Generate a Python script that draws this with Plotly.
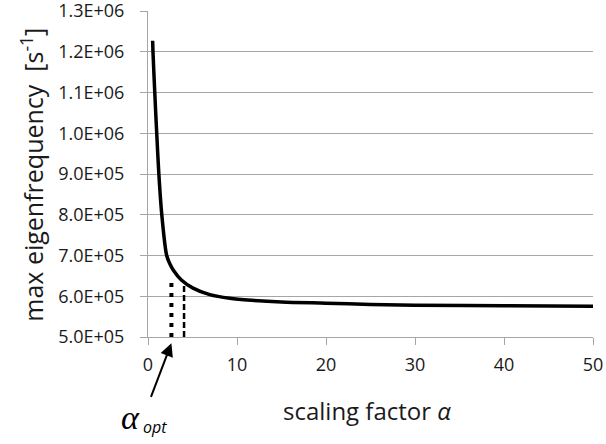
import plotly.graph_objects as go

# ---- data ----
alpha = [0.52, 0.56, 0.76, 0.98, 1.22, 1.55, 2.1, 2.45, 2.85, 3.75, 5.06, 6.94,
         9.19, 11.7, 15, 20, 25, 30, 40, 50]
max_freq = [1.227e6, 1.2e6, 1.1e6, 1.0e6, 9.0e5, 8.0e5, 7.0e5, 6.8e5, 6.64e5,
            6.40e5, 6.20e5, 6.04e5, 5.95e5, 5.90e5, 5.86e5, 5.83e5, 5.80e5,
            5.78e5, 5.765e5, 5.755e5]

dotted_x = [2.63, 2.63]
dotted_y = [5.0e5, 6.45e5]
dashed_x = [4.05, 4.05]
dashed_y = [5.0e5, 6.25e5]

x_ticks = [0, 10, 20, 30, 40, 50]
y_ticks = [5e5, 6e5, 7e5, 8e5, 9e5, 1.0e6, 1.1e6, 1.2e6, 1.3e6]
y_ticklabels = [f"{v:.1E}" for v in y_ticks]

arrow_x = 2.63

FONT = "Open Sans"
GRID = "#a6a6a6"
TXT = "#1a1a1a"

fig = go.Figure()
fig.add_trace(go.Scatter(x=alpha, y=max_freq, mode="lines",
                         line=dict(color="black", width=3.5, shape="spline",
                                   smoothing=0.9),
                         showlegend=False))
fig.add_trace(go.Scatter(x=dotted_x, y=dotted_y, mode="lines",
                         line=dict(color="black", width=4, dash="4px,6px"),
                         showlegend=False))
fig.add_trace(go.Scatter(x=dashed_x, y=dashed_y, mode="lines",
                         line=dict(color="black", width=2.5, dash="6px,3px"),
                         showlegend=False))

fig.update_layout(
    width=606, height=444,
    margin=dict(l=148, r=13, t=11, b=107, autoexpand=False),
    paper_bgcolor="white", plot_bgcolor="white",
    font=dict(family=FONT, size=18, color=TXT),
    xaxis=dict(range=[0, 50], tickvals=x_ticks, ticks="outside", ticklen=7,
               tickcolor=GRID, showgrid=False, showline=True, linecolor=GRID,
               zeroline=False, ticklabelstandoff=4, automargin=False,
               tickfont=dict(family=FONT, size=18, color=TXT)),
    yaxis=dict(range=[4.9999e5, 1.30001e6], tickvals=y_ticks,
               ticktext=y_ticklabels, automargin=False,
               ticklabeloverflow="allow",
               ticks="outside", ticklen=7, tickcolor=GRID, showgrid=True,
               gridcolor=GRID, gridwidth=1, showline=True, linecolor=GRID,
               zeroline=False, ticklabelstandoff=12,
               tickfont=dict(family=FONT, size=18, color=TXT)),
    annotations=[
        dict(text="scaling factor <i>α</i>", xref="paper", yref="paper",
             x=0.493, y=-0.224, xanchor="center", yanchor="middle",
             showarrow=False, font=dict(family=FONT, size=24, color=TXT)),
        dict(text="max eigenfrequency  [s<sup>-1</sup>]", xref="paper", yref="paper",
             x=-0.259, y=0.497, xanchor="center", yanchor="middle", textangle=-90,
             showarrow=False, font=dict(family=FONT, size=25, color=TXT)),
        dict(text="", xref="x", yref="paper", x=arrow_x, y=-0.0193,
             ax=-21, ay=55, showarrow=True, arrowhead=2, arrowsize=1.3,
             arrowwidth=2, arrowcolor="black"),
        dict(text="<i>α</i>", xref="paper", yref="paper",
             x=(131 - 148.3) / 444.7, y=(337 - 417) / 326,
             xanchor="center", yanchor="middle", showarrow=False,
             font=dict(family="Liberation Serif", size=34, color="black")),
        dict(text="<i>opt</i>", xref="paper", yref="paper",
             x=(155 - 148.3) / 444.7, y=(337 - 427) / 326,
             xanchor="center", yanchor="middle", showarrow=False,
             font=dict(family=FONT, size=16, color="black")),
    ],
)

fig.write_html("out.html",
               config={"displayModeBar": False},
               post_script="document.body.style.margin='0';")
